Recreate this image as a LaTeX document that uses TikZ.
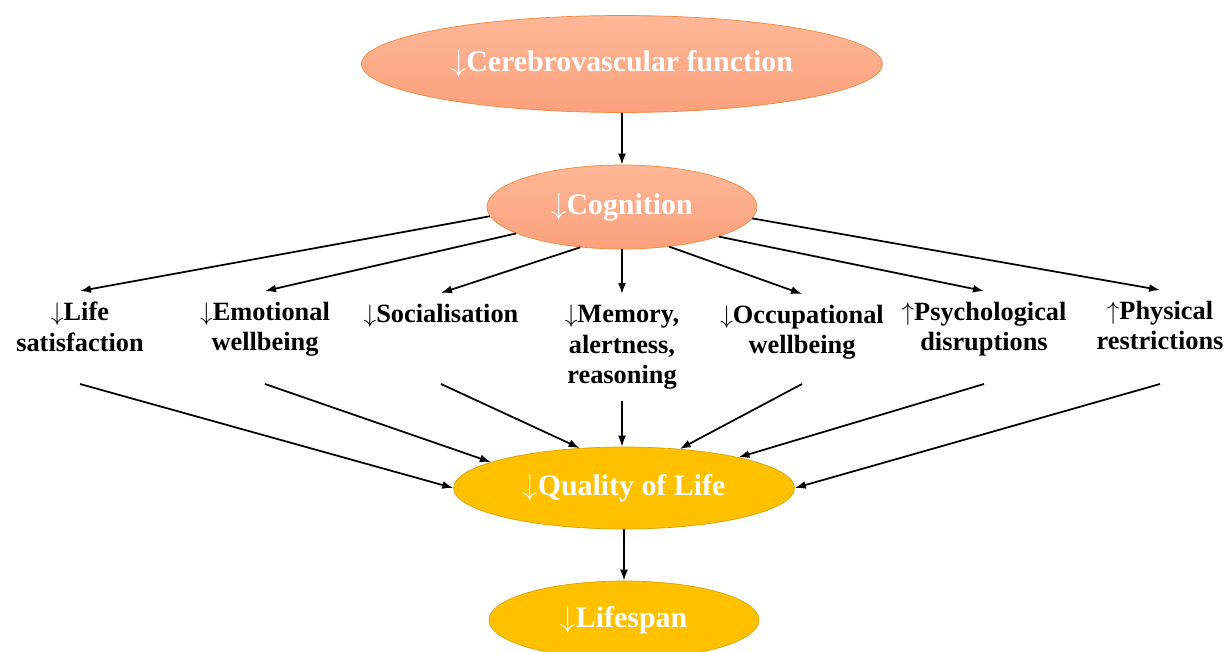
\documentclass[tikz,border=0pt]{standalone}
\usepackage{fontspec}
\setmainfont{Liberation Serif}
\usetikzlibrary{arrows.meta,shapes.geometric}

\definecolor{peachtop}{HTML}{FDB797}
\definecolor{peachbot}{HTML}{FBA07C}
\definecolor{peachline}{HTML}{F5873A}
\definecolor{goldfill}{HTML}{FFC000}
\definecolor{goldline}{HTML}{D9A300}

\begin{document}
\begin{tikzpicture}[
  x=0.02cm, y=-0.02cm,
  peach/.style  = {ellipse, draw=peachline, thin, top color=peachtop,
                   bottom color=peachbot, text=white, inner sep=0pt,
                   font=\bfseries\fontsize{17}{20}\selectfont},
  gold/.style   = {ellipse, draw=goldline, thin, fill=goldfill,
                   text=white, inner sep=0pt,
                   font=\bfseries\fontsize{17}{20}\selectfont},
  effect/.style = {align=center, anchor=north, inner xsep=2.5pt, inner ysep=6pt,
                   font=\bfseries\fontsize{15}{17.5}\selectfont},
  arr/.style    = {line width=1pt, -{Latex[length=2.2mm,width=1.6mm]}},
]
  \useasboundingbox (0,0) rectangle (1223,652);

  \node[peach, minimum width=10.42cm, minimum height=1.94cm] (cere) at (622,64) {$\downarrow$Cerebrovascular function};
  \node[peach, minimum width=5.4cm,  minimum height=1.68cm] (cog)  at (622,207) {$\downarrow$Cognition};
  \node[gold,  minimum width=6.82cm, minimum height=1.64cm] (qol)  at (624,488) {$\downarrow$Quality of Life};
  \node[gold,  minimum width=5.4cm,  minimum height=1.56cm] (span) at (624,620) {$\downarrow$Lifespan};

  % the seven consequences of lowered cognition
  \node[effect] (life) at (80,291)   {$\downarrow$Life\\satisfaction};
  \node[effect] (emot) at (265,291)  {$\downarrow$Emotional\\wellbeing};
  \node[effect] (soc)  at (441,293)  {$\downarrow$Socialisation};
  \node[effect] (memo) at (622,294)  {$\downarrow$Memory,\\alertness,\\reasoning};
  \node[effect] (occ)  at (802,294)  {$\downarrow$Occupational\\wellbeing};
  \node[effect] (psy)  at (984,291)  {$\uparrow$Psychological\\disruptions};
  \node[effect] (phys) at (1160,290) {$\uparrow$Physical\\restrictions};

  \coordinate (row) at (0,384);

  \draw[arr] (cere) -- (cog);

  \draw[arr] (cog.184) -- (life.north);
  \draw[arr] (cog.194) -- (emot.north);
  \draw[arr] (cog.224) -- (soc.north);
  \draw[arr] (cog.south) -- (memo.north);
  \draw[arr] (cog.320) -- (occ.north);
  \draw[arr] (cog.343) -- (psy.north);
  \draw[arr] (cog.355) -- (phys.north);

  \draw[arr] (life |- row) -- (qol.west);
  \draw[arr] (emot |- row) -- (qol.169);
  \draw[arr] (soc |- row)  -- (qol.138);
  \draw[arr] (memo.south)  -- (memo |- qol.north);
  \draw[arr] (occ |- row)  -- (qol.35);
  \draw[arr] (psy |- row)  -- (qol.15);
  \draw[arr] (phys |- row) -- (qol.east);

  \draw[arr] (qol) -- (span);
\end{tikzpicture}
\end{document}
